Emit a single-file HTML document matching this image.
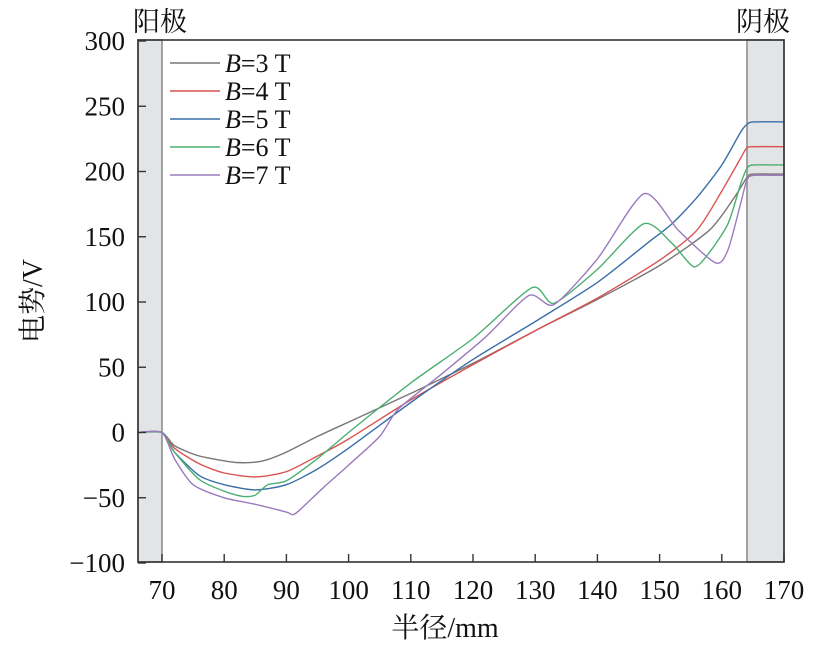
<!DOCTYPE html>
<html><head><meta charset="utf-8"><style>
body{margin:0;background:#fff;}
svg{display:block;font-family:"Liberation Serif","Noto Serif CJK SC",serif;}
</style></head><body>
<svg id="s" width="819" height="651" viewBox="0 0 819 651" xmlns="http://www.w3.org/2000/svg">
<rect x="138" y="40" width="24" height="522" fill="#e3e4e6" stroke="#888" stroke-width="1.5"/>
<rect x="747" y="40" width="37" height="522" fill="#e3e4e6" stroke="#888" stroke-width="1.5"/>
<g id="curves" fill="none" stroke-width="1.4"></g>
<rect x="138" y="40" width="646" height="522" fill="none" stroke="#333" stroke-width="1.6"/>
<g id="ticks" stroke="#333" stroke-width="1.4"></g>
<g id="labels" font-size="27" fill="#111"></g>
<text x="160" y="31" font-size="27" text-anchor="middle" fill="#111">阳极</text>
<text x="763" y="31" font-size="27" text-anchor="middle" fill="#111">阴极</text>
<text x="445" y="637" font-size="28" text-anchor="middle" fill="#111">半径/mm</text>
<text transform="translate(42,301) rotate(-90)" font-size="28" text-anchor="middle" fill="#111">电势/V</text>
<g font-size="26" fill="#111">
<line x1="170" y1="63" x2="220" y2="63" stroke="#777" stroke-width="1.4"/><text x="225" y="72"><tspan font-style="italic">B</tspan>=3 T</text>
<line x1="170" y1="91" x2="220" y2="91" stroke="#d9534f" stroke-width="1.4"/><text x="225" y="100"><tspan font-style="italic">B</tspan>=4 T</text>
<line x1="170" y1="119" x2="220" y2="119" stroke="#3a6ea8" stroke-width="1.4"/><text x="225" y="128"><tspan font-style="italic">B</tspan>=5 T</text>
<line x1="170" y1="147" x2="220" y2="147" stroke="#4caf72" stroke-width="1.4"/><text x="225" y="156"><tspan font-style="italic">B</tspan>=6 T</text>
<line x1="170" y1="175" x2="220" y2="175" stroke="#9a7bbd" stroke-width="1.4"/><text x="225" y="184"><tspan font-style="italic">B</tspan>=7 T</text>
</g>
</svg>
<script>
const X=v=>162+(v-70)*6.22, Y=v=>432.5-v*1.305;
const ns="http://www.w3.org/2000/svg";
const data=[
["#777",[[66,0],[70,0],[72,-10],[76,-18],[82,-23],[86,-22],[90,-15],[95,-3],[100,8],[110,30],[120,53],[130,78],[140,102],[150,128],[158,155],[162,180],[164,195],[165,198],[170,198]]],
["#d9534f",[[66,0],[70,0],[72,-12],[76,-24],[80,-31],[85,-34],[90,-30],[95,-18],[100,-5],[110,25],[120,52],[130,78],[140,103],[150,132],[156,155],[160,185],[163,210],[164,218],[165,219],[170,219]]],
["#3a6ea8",[[66,0],[70,0],[72,-15],[76,-33],[80,-40],[85,-44],[90,-40],[95,-28],[100,-12],[110,23],[120,56],[130,85],[140,115],[148,145],[152,160],[156,180],[160,205],[163,230],[164,236],[165,238],[170,238]]],
["#4caf72",[[66,0],[70,0],[72,-15],[76,-36],[80,-45],[83,-49],[85,-48],[87,-40],[90,-37],[95,-20],[100,0],[110,38],[120,72],[129.5,111],[133,99],[140,125],[147.5,160],[152,145],[155.5,127],[158,138],[161,160],[163,190],[164,202],[165,205],[170,205]]],
["#9a7bbd",[[66,0],[70,0],[72,-20],[75,-40],[80,-50],[85,-55],[90,-61],[91,-63],[92,-60],[96,-42],[100,-25],[105,-3],[108,18],[115,45],[122,73],[129,105],[133,98],[140,133],[147.5,183],[153,155],[159,130],[161,140],[163,175],[164,193],[165,197],[170,197]]]];
const g=document.getElementById("curves");
function path(p){const q=p.map(a=>[X(a[0]),Y(a[1])]);let d="M"+q[0][0].toFixed(1)+","+q[0][1].toFixed(1);
for(let i=0;i<q.length-1;i++){const p0=q[Math.max(0,i-1)],p1=q[i],p2=q[i+1],p3=q[Math.min(q.length-1,i+2)];const k=0.12;
d+=" C"+(p1[0]+(p2[0]-p0[0])*k).toFixed(1)+","+(p1[1]+(p2[1]-p0[1])*k).toFixed(1)+" "+(p2[0]-(p3[0]-p1[0])*k).toFixed(1)+","+(p2[1]-(p3[1]-p1[1])*k).toFixed(1)+" "+p2[0].toFixed(1)+","+p2[1].toFixed(1);}
return d;}
data.forEach(([c,p])=>{const e=document.createElementNS(ns,"path");e.setAttribute("d",path(p));e.setAttribute("stroke",c);e.setAttribute("stroke-linejoin","round");g.appendChild(e);});
const t=document.getElementById("ticks"),l=document.getElementById("labels");
for(let v=70;v<=170;v+=10){const x=X(v);const e=document.createElementNS(ns,"line");e.setAttribute("x1",x);e.setAttribute("x2",x);e.setAttribute("y1",562);e.setAttribute("y2",554);t.appendChild(e);
const s=document.createElementNS(ns,"text");s.setAttribute("x",x);s.setAttribute("y",599);s.setAttribute("text-anchor","middle");s.textContent=v;l.appendChild(s);}
for(let v=-100;v<=300;v+=50){const y=Y(v);const e=document.createElementNS(ns,"line");e.setAttribute("x1",138);e.setAttribute("x2",146);e.setAttribute("y1",y);e.setAttribute("y2",y);t.appendChild(e);
const s=document.createElementNS(ns,"text");s.setAttribute("x",125);s.setAttribute("y",y+9);s.setAttribute("text-anchor","end");s.textContent=v<0?"\u2212"+(-v):v;l.appendChild(s);}
</script>
</body></html>
